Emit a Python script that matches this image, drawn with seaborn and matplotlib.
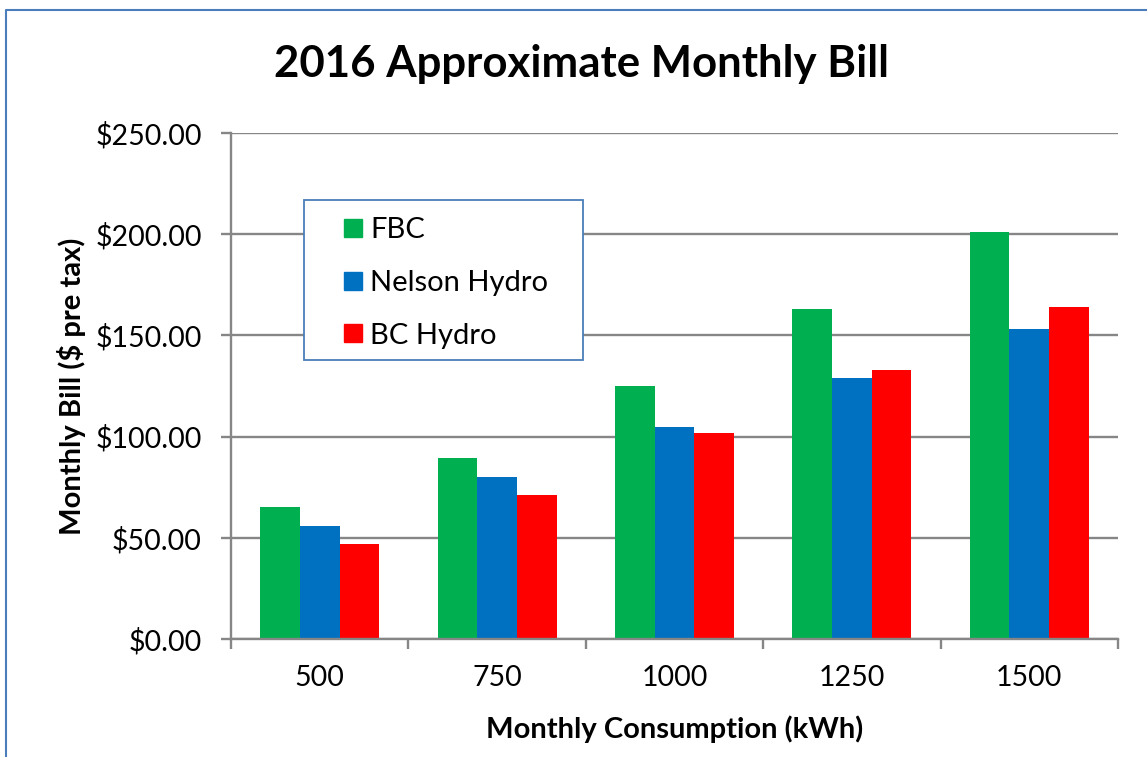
import matplotlib
matplotlib.use("Agg")
import matplotlib.pyplot as plt
import numpy as np
import pandas as pd
import seaborn as sns
from matplotlib.lines import Line2D
from matplotlib.patches import Rectangle
from matplotlib.ticker import FuncFormatter, FixedLocator

# --- data ---
consumption = ["500", "750", "1000", "1250", "1500"]
fbc = [65, 89.5, 125, 163, 201]
nelson = [56, 80, 104.5, 129, 153]
bc_hydro = [47, 71, 102, 133, 164]
providers = ["FBC", "Nelson Hydro", "BC Hydro"]
colors = ["#00B050", "#0070C0", "#FF0000"]

df = pd.DataFrame({
    "kWh": consumption * 3,
    "bill": fbc + nelson + bc_hydro,
    "provider": [p for p in providers for _ in consumption],
})

sns.set_theme(style="white")
plt.rcParams["font.family"] = ["Lato", "DejaVu Sans"]
plt.rcParams["text.color"] = "black"
plt.rcParams["axes.labelcolor"] = "black"

W, H = 1147, 757
fig = plt.figure(figsize=(W / 100, H / 100), dpi=100)
ax = fig.add_axes([231 / W, 1 - 639 / H, (1118 - 231) / W, (639 - 133) / H])

sns.barplot(data=df, x="kWh", y="bill", hue="provider", palette=colors,
            width=0.67, saturation=1, legend=False, linewidth=0, ax=ax)

# axes styling (Excel look)
grid_c = "#868686"
ax.set_ylim(0, 250)
ax.set_xlim(-0.5, 4.5)
ax.yaxis.set_major_locator(FixedLocator(np.arange(0, 251, 50)))
ax.yaxis.set_major_formatter(FuncFormatter(lambda v, _: f"${v:,.2f}"))
ax.grid(axis="y", color=grid_c, lw=1.7)
ax.set_axisbelow(True)
for s in ["top", "right"]:
    ax.spines[s].set_visible(False)
for s in ["left", "bottom"]:
    ax.spines[s].set_color(grid_c)
    ax.spines[s].set_linewidth(1.7)
ax.tick_params(axis="y", length=7, width=1.7, color=grid_c, labelcolor="black",
               pad=14, labelsize=20.5, left=True)
ax.xaxis.set_minor_locator(FixedLocator(np.arange(-0.5, 5, 1)))
ax.tick_params(axis="x", which="major", length=0, pad=19, labelsize=20.5,
               labelcolor="black")
ax.tick_params(axis="x", which="minor", length=7, width=1.7, color=grid_c, bottom=True)

ax.set_xlabel("Monthly Consumption (kWh)", fontsize=21, fontweight="bold", labelpad=17)
ax.set_ylabel("Monthly Bill ($ pre tax)", fontsize=21, fontweight="bold", labelpad=7)

# legend: box drawn as a patch, entries placed frameless inside it
ax.add_patch(Rectangle((73 / 887, (639 - 360) / 506), 279 / 887, 160 / 506,
                       transform=ax.transAxes, facecolor="white",
                       edgecolor="#4A7EBB", lw=1.3, zorder=4))
handles = [Line2D([], [], marker="s", ls="", markersize=13, color=c) for c in colors]
leg = ax.legend(handles, providers, loc="upper left",
                bbox_to_anchor=((341 - 231) / 887, (639 - 217) / 506),
                fontsize=21, handlelength=0.8, handletextpad=0.2,
                labelspacing=0.92, borderpad=0, borderaxespad=0, frameon=False)
leg.set_zorder(5)

fig.text(582 / W, 1 - 64 / H, "2016 Approximate Monthly Bill", ha="center",
         va="center", fontsize=31.5, fontweight="bold")

# outer chart border (only left and top visible in the crop)
fig.add_artist(Line2D([6 / W, 6 / W, 1.01], [-0.01, 1 - 10 / H, 1 - 10 / H],
                      transform=fig.transFigure, color="#4A7EBB", lw=1.5))

fig.savefig("out.png", dpi=100)
